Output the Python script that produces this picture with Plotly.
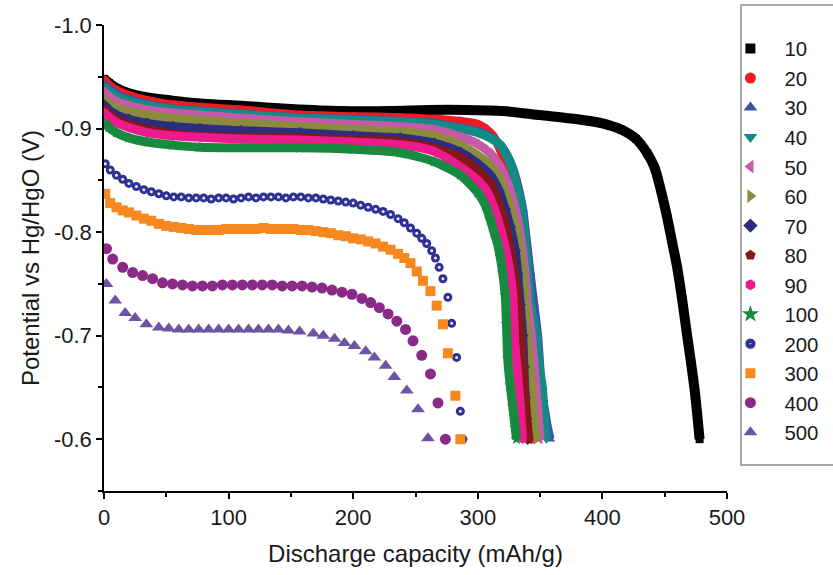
import plotly.graph_objects as go

# ---------------- data ----------------
labels = ["10", "20", "30", "40", "50", "60", "70", "80", "90", "100", "200", "300", "400", "500"]

x10 = [0, 4, 10, 20, 35, 55, 80, 110, 150, 190, 230, 260, 290, 320, 350, 380, 400, 415, 427, 436, 442, 447, 452, 456, 460, 464, 468, 471, 474, 476, 478]
y10 = [-0.948, -0.944, -0.939, -0.934, -0.930, -0.927, -0.924, -0.922, -0.919, -0.917, -0.917, -0.918, -0.918, -0.917, -0.913, -0.909, -0.905, -0.899, -0.890, -0.876, -0.862, -0.840, -0.814, -0.790, -0.766, -0.735, -0.700, -0.675, -0.648, -0.625, -0.600]

xh = [0, 4, 10, 20, 35, 55, 77, 110, 157, 200, 238, 265, 286, 300]

x20 = xh + [306, 312, 318, 323, 327, 330, 334, 336, 338, 340, 341, 342, 343]
y20 = [-0.947, -0.942, -0.937, -0.932, -0.927, -0.923, -0.9206, -0.918, -0.913, -0.9115, -0.9105, -0.909, -0.907, -0.904,
       -0.900, -0.893, -0.880, -0.860, -0.840, -0.810, -0.780, -0.750, -0.720, -0.680, -0.650, -0.620, -0.600]

x30 = xh + [310, 318, 324, 329, 333, 336, 339, 342, 345, 348, 351, 354, 356, 358]
y30 = [-0.943, -0.938, -0.933, -0.928, -0.923, -0.919, -0.917, -0.914, -0.9105, -0.909, -0.907, -0.905, -0.9005, -0.897,
       -0.892, -0.884, -0.873, -0.858, -0.840, -0.822, -0.792, -0.760, -0.730, -0.700, -0.650, -0.625, -0.611, -0.600]

x40 = xh + [310, 318, 323, 328, 332, 335, 338, 340, 343, 347, 349, 352, 353, 355]
y40 = [-0.9405, -0.936, -0.931, -0.926, -0.922, -0.9185, -0.9165, -0.9135, -0.910, -0.908, -0.9066, -0.904, -0.900, -0.896,
       -0.891, -0.884, -0.874, -0.860, -0.840, -0.824, -0.792, -0.760, -0.725, -0.700, -0.673, -0.648, -0.624, -0.600]

x50 = xh + [310, 317, 323, 328, 332, 335, 338, 340, 343, 346, 348, 350]
y50 = [-0.9356, -0.931, -0.926, -0.922, -0.918, -0.915, -0.913, -0.910, -0.9066, -0.904, -0.9018, -0.899, -0.892, -0.885,
       -0.876, -0.865, -0.850, -0.832, -0.812, -0.790, -0.760, -0.730, -0.700, -0.660, -0.630, -0.600]

x60 = xh + [310, 317, 323, 328, 332, 335, 337, 339, 341, 343, 345, 347]
y60 = [-0.928, -0.924, -0.920, -0.916, -0.913, -0.910, -0.908, -0.905, -0.9018, -0.899, -0.897, -0.893, -0.884, -0.874,
       -0.864, -0.852, -0.835, -0.815, -0.795, -0.770, -0.745, -0.710, -0.680, -0.650, -0.620, -0.600]

x70 = xh + [310, 317, 322, 326, 330, 332, 334, 336, 337, 338, 339, 340]
y70 = [-0.923, -0.918, -0.913, -0.909, -0.905, -0.902, -0.900, -0.898, -0.896, -0.893, -0.891, -0.886, -0.877, -0.866,
       -0.855, -0.840, -0.822, -0.805, -0.782, -0.760, -0.730, -0.700, -0.670, -0.640, -0.620, -0.600]

x80 = xh + [310, 316, 321, 325, 328, 331, 333, 335, 337, 339, 341]
y80 = [-0.919, -0.914, -0.909, -0.904, -0.899, -0.895, -0.8925, -0.8915, -0.891, -0.889, -0.8872, -0.881, -0.872, -0.859,
       -0.847, -0.830, -0.812, -0.790, -0.770, -0.745, -0.720, -0.690, -0.656, -0.625, -0.600]

x90 = xh + [308, 314, 319, 323, 326, 328, 329, 330, 332, 334, 336]
y90 = [-0.916, -0.911, -0.906, -0.901, -0.896, -0.893, -0.8915, -0.890, -0.889, -0.887, -0.8843, -0.878, -0.863, -0.850,
       -0.838, -0.820, -0.800, -0.780, -0.760, -0.740, -0.715, -0.688, -0.664, -0.632, -0.600]

x100 = xh + [306, 310, 313, 316, 318, 320, 322, 323, 324, 326, 328, 330, 331]
y100 = [-0.906, -0.901, -0.896, -0.891, -0.887, -0.884, -0.882, -0.8815, -0.8814, -0.880, -0.8766, -0.868, -0.855, -0.838,
        -0.826, -0.812, -0.800, -0.788, -0.776, -0.760, -0.739, -0.711, -0.678, -0.652, -0.632, -0.611, -0.600]

x200 = [1, 5, 10, 15, 20, 26, 32, 38, 44, 50, 56, 62, 68, 74, 80, 86, 92, 98, 104, 110, 116, 122, 128, 134, 140, 146, 152,
        158, 164, 170, 176, 182, 188, 194, 200, 206, 212, 218, 224, 230, 236, 241, 246, 251, 255, 259, 263, 266, 269, 272,
        276, 279, 283, 286, 288]
y200 = [-0.866, -0.860, -0.855, -0.851, -0.847, -0.844, -0.841, -0.839, -0.837, -0.835, -0.834, -0.834, -0.833, -0.833,
        -0.833, -0.832, -0.833, -0.833, -0.832, -0.833, -0.834, -0.833, -0.834, -0.834, -0.834, -0.833, -0.834, -0.834,
        -0.833, -0.833, -0.832, -0.831, -0.830, -0.829, -0.828, -0.826, -0.824, -0.822, -0.820, -0.817, -0.813, -0.809,
        -0.804, -0.799, -0.794, -0.789, -0.782, -0.775, -0.766, -0.755, -0.737, -0.712, -0.679, -0.627, -0.600]

x300 = [1, 5, 10, 15, 20, 26, 32, 38, 44, 50, 56, 62, 68, 74, 80, 86, 92, 98, 104, 110, 116, 122, 128, 134, 140, 146, 152,
        158, 164, 170, 176, 182, 188, 194, 200, 206, 212, 218, 224, 230, 236, 241, 246, 251, 256, 262, 267, 272, 276, 282, 286]
y300 = [-0.837, -0.828, -0.824, -0.821, -0.819, -0.816, -0.813, -0.811, -0.808, -0.806, -0.805, -0.804, -0.803, -0.802,
        -0.802, -0.802, -0.802, -0.803, -0.803, -0.803, -0.803, -0.803, -0.804, -0.803, -0.803, -0.803, -0.803, -0.802,
        -0.802, -0.801, -0.800, -0.799, -0.797, -0.796, -0.794, -0.793, -0.791, -0.789, -0.786, -0.783, -0.779, -0.775,
        -0.770, -0.762, -0.753, -0.743, -0.729, -0.711, -0.683, -0.642, -0.600]

x400 = [2, 7, 15, 23, 31, 39, 47, 55, 63, 71, 79, 87, 95, 103, 111, 119, 127, 135, 143, 151, 159, 167, 175, 183, 191, 199,
        207, 214, 221, 228, 235, 242, 248, 255, 262, 268, 274]
y400 = [-0.784, -0.774, -0.766, -0.761, -0.758, -0.755, -0.751, -0.750, -0.749, -0.748, -0.748, -0.748, -0.749, -0.749,
        -0.749, -0.749, -0.749, -0.749, -0.748, -0.748, -0.748, -0.747, -0.746, -0.744, -0.742, -0.740, -0.736, -0.732,
        -0.727, -0.721, -0.714, -0.706, -0.695, -0.681, -0.663, -0.635, -0.600]

x500 = [2, 9, 17, 25, 34, 44, 52, 60, 68, 76, 84, 92, 100, 108, 116, 124, 132, 140, 148, 157, 168, 176, 185, 193, 201, 210,
        217, 226, 233, 243, 252, 260]
y500 = [-0.750, -0.734, -0.722, -0.717, -0.711, -0.708, -0.707, -0.706, -0.706, -0.706, -0.706, -0.706, -0.706, -0.706,
        -0.706, -0.706, -0.706, -0.706, -0.705, -0.704, -0.702, -0.700, -0.697, -0.693, -0.690, -0.685, -0.679, -0.671,
        -0.660, -0.647, -0.629, -0.601]

x_ticks = [0, 100, 200, 300, 400, 500]
y_ticks = [-1.0, -0.9, -0.8, -0.7, -0.6]
y_ticktext = ["-1.0", "-0.9", "-0.8", "-0.7", "-0.6"]

# ---------------- styles ----------------
colors = ["#000000", "#ed1c24", "#3a55a6", "#138b84", "#c45aa8", "#8a8b3c", "#2b2e7f", "#861719", "#ec1a8c",
          "#168a3e", "#2e3192", "#f7881f", "#8a2a88", "#6d53a3"]
symbols = ["square", "circle", "triangle-up", "triangle-down", "triangle-left", "triangle-right", "diamond",
           "pentagon", "hexagon", "star", "circle", "square", "circle", "triangle-up"]

band_series = [(x10, y10), (x20, y20), (x30, y30), (x40, y40), (x50, y50), (x60, y60), (x70, y70),
               (x80, y80), (x90, y90), (x100, y100)]
dot_series = [(x200, y200), (x300, y300), (x400, y400), (x500, y500)]
dot_sizes = [9, 10, 11, 12]

FONT = "Liberation Sans, Arial, sans-serif"

fig = go.Figure()

for i, (xs, ys) in enumerate(band_series):
    fig.add_trace(go.Scatter(
        x=xs, y=ys, mode="lines+markers", showlegend=False,
        line=dict(color=colors[i], width=10 if i == 0 else 9, shape="spline", smoothing=0.7),
        marker=dict(symbol=symbols[i], size=9 if i else 8, color=colors[i]),
    ))

for j, (xs, ys) in enumerate(dot_series):
    k = 10 + j
    fig.add_trace(go.Scatter(x=xs, y=ys, mode="markers", showlegend=False,
                             marker=dict(symbol=symbols[k], size=dot_sizes[j], color=colors[k])))
    if j == 0:
        # white highlight of the "ball" markers
        fig.add_trace(go.Scatter(x=xs, y=ys, mode="markers", showlegend=False,
                                 marker=dict(symbol="circle", size=3, color="#e8ebf7")))

# legend-only entries
legend_sizes = [10, 11, 12, 12, 12, 12, 11, 11, 11, 13, 11, 10, 11, 12]
for k, lab in enumerate(labels):
    mk = dict(symbol=symbols[k], size=legend_sizes[k], color=colors[k])
    if k == 10:
        mk["symbol"] = "circle-dot"
        mk["line"] = dict(color="#e8ebf7", width=1)
    fig.add_trace(go.Scatter(x=[None], y=[None], mode="markers", name=lab, marker=mk))

fig.update_layout(
    width=833, height=575,
    margin=dict(l=104, r=106, t=25, b=84, autoexpand=False),
    paper_bgcolor="white", plot_bgcolor="white",
    font=dict(family=FONT, size=22, color="#1a1a1a"),
    showlegend=True,
    legend=dict(x=0.983, y=0.992, xanchor="left", yanchor="top",
                bgcolor="rgba(0,0,0,0)", borderwidth=0, itemwidth=58,
                font=dict(family=FONT, size=20.4, color="#1a1a1a"),
                tracegroupgap=0),
    shapes=[dict(type="rect", xref="paper", yref="paper",
                 x0=1.0225, x1=1.22, y0=0.0558, y1=1.0429,
                 line=dict(color="#8c8c8c", width=1.5), fillcolor="rgba(0,0,0,0)")],
)

fig.update_xaxes(
    range=[0, 500], tickvals=x_ticks, ticks="outside", ticklen=6, tickwidth=1.5, tickcolor="black",
    showline=True, linecolor="black", linewidth=1.5, showgrid=False, zeroline=False,
    minor=dict(dtick=50, tick0=0, ticks="outside", ticklen=4, tickwidth=1.5, tickcolor="black", showgrid=False),
    tickfont=dict(size=22),
    title=dict(text="Discharge capacity (mAh/g)", font=dict(size=24), standoff=16),
)
fig.update_yaxes(
    range=[-0.55, -1.0], tickvals=y_ticks, ticktext=y_ticktext, ticks="outside", ticklen=6, tickwidth=1.5,
    tickcolor="black", showline=True, linecolor="black", linewidth=1.5, showgrid=False, zeroline=False,
    minor=dict(dtick=0.05, tick0=-1.0, ticks="outside", ticklen=4, tickwidth=1.5, tickcolor="black", showgrid=False),
    tickfont=dict(size=22),
    title=dict(text="Potential vs Hg/HgO (V)", font=dict(size=24), standoff=8),
)

fig.write_html("out.html")
